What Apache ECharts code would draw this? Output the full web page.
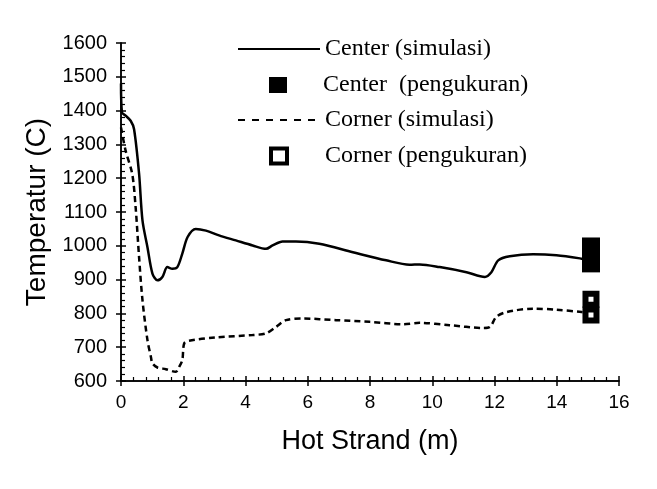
<!DOCTYPE html>
<html>
<head>
<meta charset="utf-8">
<script src="https://cdn.jsdelivr.net/npm/echarts@6/dist/echarts.min.js"></script>
<style>html,body{margin:0;padding:0;background:#fff}#c{width:657px;height:489px}</style>
</head>
<body>
<div id="c"></div>
<script>
// Center (simulasi)
const centerX = [0, 0.03, 0.15, 0.31, 0.42, 0.58, 0.69, 0.85, 1.01, 1.17, 1.33, 1.49, 1.65, 1.81, 1.97, 2.14, 2.40, 2.73, 3.15, 3.69, 4.23, 4.66, 4.87, 5.19, 5.62, 6.37, 7.45, 8.52, 9.27, 9.6, 10.24, 11.1, 11.69, 11.9, 12.12, 12.49, 13.24, 13.99, 14.8, 15.0];
const centerY = [1480, 1395, 1385, 1370, 1345, 1214, 1075, 996, 918, 898, 908, 937, 932, 937, 977, 1026, 1050, 1045, 1031, 1016, 1001, 991, 1001, 1013, 1013, 1006, 981, 957, 944, 945, 937, 922, 908, 922, 957, 969, 975, 972, 962, 958];
// Corner (simulasi)
const cornerX = [0, 0.15, 0.36, 0.47, 0.58, 0.69, 0.85, 0.96, 1.01, 1.17, 1.44, 1.76, 1.87, 1.97, 2.03, 2.19, 3.05, 4.23, 4.66, 4.98, 5.30, 5.84, 6.91, 7.99, 9.06, 9.6, 10.56, 11.63, 11.85, 12.06, 12.39, 13.24, 13.99, 14.8, 15.0];
const cornerY = [1350, 1281, 1213, 1114, 967, 839, 721, 672, 652, 640, 635, 627, 642, 662, 711, 719, 729, 736, 741, 760, 780, 785, 780, 775, 768, 772, 765, 757, 760, 790, 804, 814, 811, 804, 802];
// Measurements
const centerMeasX = [15.1, 15.1];
const centerMeasY = [998, 948];
const cornerMeasX = [15.1, 15.1];
const cornerMeasY = [842, 795];
// Axis ticks
const xTicks = [0, 2, 4, 6, 8, 10, 12, 14, 16];
const yTicks = [600, 700, 800, 900, 1000, 1100, 1200, 1300, 1400, 1500, 1600];

const zip = (a, b) => a.map((v, i) => [v, b[i]]);
const chart = echarts.init(document.getElementById('c'), null, {renderer: 'canvas'});
const sans = 'Liberation Sans, Arial, sans-serif';
const serif = 'Liberation Serif, Times New Roman, serif';
const blk = '#000';
const baseX = {
  type: 'value', min: xTicks[0], max: xTicks[xTicks.length - 1], interval: 2,
  position: 'bottom', offset: 0, splitLine: {show: false},
  axisLine: {show: true, lineStyle: {color: blk, width: 1.5}}
};
const baseY = {
  type: 'value', min: yTicks[0], max: yTicks[yTicks.length - 1], interval: 100,
  position: 'left', offset: 0, splitLine: {show: false},
  axisLine: {show: true, lineStyle: {color: blk, width: 1.5}}
};
const legendText = {fontFamily: serif, fontSize: 24, color: blk};
const plain = v => String(v);
chart.setOption({
  backgroundColor: '#fff',
  animation: false,
  grid: {left: 121, right: 38, top: 43, bottom: 108, containLabel: false},
  xAxis: [
    Object.assign({}, baseX, {
      name: 'Hot Strand (m)', nameLocation: 'middle', nameGap: 47,
      nameTextStyle: {fontFamily: sans, fontSize: 27, color: blk},
      axisTick: {show: true, inside: false, length: 5, lineStyle: {color: blk, width: 1.5}},
      axisLabel: {show: true, margin: 12, fontFamily: sans, fontSize: 19, color: blk, formatter: plain}
    }),
    Object.assign({}, baseX, {
      axisTick: {show: true, inside: true, length: 5, lineStyle: {color: blk, width: 1.5}},
      minorTick: {show: true, splitNumber: 5, length: 4, lineStyle: {color: blk, width: 1.2}},
      axisLabel: {show: false}
    })
  ],
  yAxis: [
    Object.assign({}, baseY, {
      name: 'Temperatur (C)', nameLocation: 'middle', nameGap: 66,
      nameTextStyle: {fontFamily: sans, fontSize: 28, color: blk},
      axisTick: {show: true, inside: false, length: 5, lineStyle: {color: blk, width: 1.5}},
      axisLabel: {show: true, margin: 14, fontFamily: sans, fontSize: 20, color: blk, formatter: plain}
    }),
    Object.assign({}, baseY, {
      axisTick: {show: true, inside: true, length: 5, lineStyle: {color: blk, width: 1.5}},
      minorTick: {show: true, splitNumber: 5, length: 4, lineStyle: {color: blk, width: 1.2}},
      axisLabel: {show: false}
    })
  ],
  legend: [
    {data: [{name: 'Center (simulasi)', itemStyle: {opacity: 0}}], left: 237, top: 37, padding: 0, itemWidth: 82, itemHeight: 14, textStyle: legendText},
    {data: ['Center  (pengukuran)'], left: 269, top: 73, padding: 0, itemWidth: 18, itemHeight: 16, textStyle: Object.assign({padding: [0, 0, 0, 31]}, legendText)},
    {data: [{name: 'Corner (simulasi)', itemStyle: {opacity: 0}, lineStyle: {type: [7, 7]}}], left: 237, top: 108, padding: 0, itemWidth: 82, itemHeight: 14, textStyle: legendText},
    {data: [{name: 'Corner (pengukuran)', itemStyle: {borderWidth: 4}}], left: 269, top: 144, padding: 0, itemWidth: 16, itemHeight: 15, textStyle: Object.assign({padding: [0, 0, 0, 33]}, legendText)}
  ],
  series: [
    {name: 'Center (simulasi)', type: 'line', data: zip(centerX, centerY), showSymbol: false, symbol: 'none', smooth: 0.3,
      lineStyle: {color: blk, width: 2.5}, itemStyle: {color: blk}},
    {name: 'Corner (simulasi)', type: 'line', data: zip(cornerX, cornerY), showSymbol: false, symbol: 'none', smooth: 0.3,
      lineStyle: {color: blk, width: 2.5, type: [6, 4]}, itemStyle: {color: blk}},
    {name: 'Center  (pengukuran)', type: 'scatter', data: zip(centerMeasX, centerMeasY), symbol: 'rect', symbolSize: 18,
      itemStyle: {color: blk, opacity: 1}},
    {name: 'Corner (pengukuran)', type: 'scatter', data: zip(cornerMeasX, cornerMeasY), symbol: 'rect', symbolSize: 11,
      itemStyle: {color: '#fff', borderColor: blk, borderWidth: 6, opacity: 1}}
  ]
});
</script>
</body>
</html>
